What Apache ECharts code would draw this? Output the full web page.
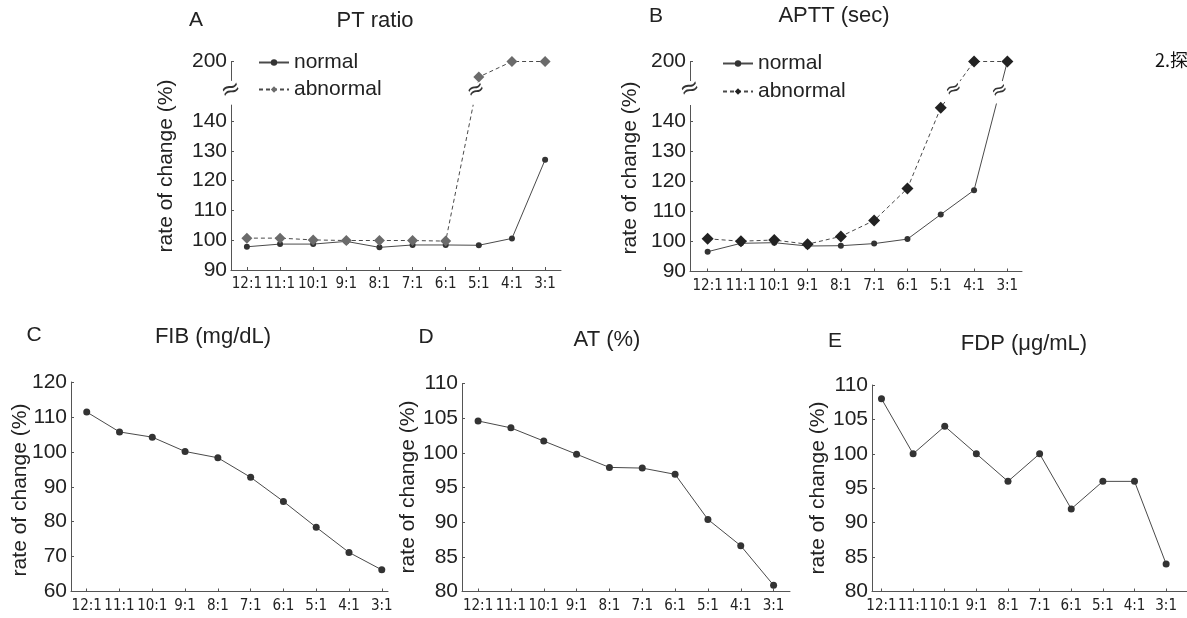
<!DOCTYPE html>
<html>
<head>
<meta charset="utf-8">
<title>rate of change</title>
<script src="https://cdn.jsdelivr.net/npm/echarts@6.0.0/dist/echarts.min.js"></script>
<style>
html, body { margin: 0; padding: 0; background: #fff; }
#main { width: 1187px; height: 618px; }
</style>
</head>
<body>
<div id="main"></div>
<script>
var categories = ['12:1', '11:1', '10:1', '9:1', '8:1', '7:1', '6:1', '5:1', '4:1', '3:1'];

// A  PT ratio
var ptNormal   = [97.8, 98.7, 98.7, 99.6, 97.6, 98.4, 98.4, 98.3, 100.6, 127];
var ptAbnormal = [100.7, 100.7, 100.1, 99.9, 99.9, 99.9, 99.7, 174, 200, 200];
// B  APTT
var apttNormal   = [96.6, 99.4, 99.6, 98.5, 98.6, 99.3, 100.8, 109, 117.1, 200];
var apttAbnormal = [100.9, 100.1, 100.5, 99.1, 101.7, 107, 117.7, 144.6, 200, 200];
// C  FIB, D  AT, E  FDP
var fib = [111.4, 105.7, 104.2, 100.1, 98.3, 92.7, 85.8, 78.4, 71.2, 66.2];
var at  = [104.6, 103.6, 101.7, 99.8, 97.9, 97.8, 96.9, 90.4, 86.6, 80.9];
var fdp = [108, 100, 104, 100, 96, 100, 92, 96, 96, 84];

var brokenTicks = [90, 100, 110, 120, 130, 140, 200];
var fibTicks = [60, 70, 80, 90, 100, 110, 120];
var pctTicks = [80, 85, 90, 95, 100, 105, 110];

var numFont = "'Liberation Sans', Arial, sans-serif";
var catFont = "'DejaVu Sans Condensed', 'Liberation Sans Narrow', sans-serif";
var ink = '#222';
var lineCol = '#4a4a4a';

// values above 150 are drawn on a compressed scale (axis break)
function squash(v) {
    return v <= 150 ? v : 150 + (v - 150) / 5;
}
function pts(arr, f) {
    return arr.map(function (v, i) { return [i, f ? f(v) : v]; });
}

var catIdx = categories.map(function (c, i) { return i; });

var grids = [
    {left: 231, top: 61.5, width: 330, height: 208.5},
    {left: 690, top: 61.5, width: 332, height: 210},
    {left: 71, top: 382, width: 317, height: 209.5},
    {left: 462, top: 383.5, width: 328, height: 208},
    {left: 872, top: 385, width: 330, height: 206.5}
];
var xRange = [[-0.48, 9.48], [-0.53, 9.44], [-0.48, 9.19], [-0.49, 9.5], [-0.3, 9.66]];
var yRange = [[90, 160, brokenTicks], [90, 160, brokenTicks], [60, 120, fibTicks], [80, 110, pctTicks], [80, 110, pctTicks]];

var xAxes = grids.map(function (g, k) {
    return {
        type: 'value', gridIndex: k, min: xRange[k][0], max: xRange[k][1],
        axisLine: {show: true, onZero: false, lineStyle: {color: '#555', width: 1}},
        axisTick: {show: true, inside: true, length: 3, customValues: catIdx, lineStyle: {color: '#555'}},
        axisLabel: {
            customValues: catIdx, margin: 7, color: ink, fontSize: 15, fontFamily: catFont,
            hideOverlap: false, showMinLabel: true, showMaxLabel: true,
            formatter: function (v) { return categories[v]; }
        },
        splitLine: {show: false}
    };
});

var yAxes = grids.map(function (g, k) {
    var broken = k < 2;
    var ticks = broken ? yRange[k][2].map(squash) : yRange[k][2];
    return {
        type: 'value', gridIndex: k, min: yRange[k][0], max: yRange[k][1],
        axisLine: {show: true, onZero: false, lineStyle: {color: '#555', width: 1}},
        axisTick: {show: true, inside: true, length: 3, customValues: ticks, lineStyle: {color: '#555'}},
        axisLabel: {
            customValues: ticks, margin: 4, color: ink, fontSize: 21, fontFamily: numFont,
            hideOverlap: false,
            formatter: function (v) { return broken && v === 160 ? '200' : v; }
        },
        splitLine: {show: false}
    };
});

function lineSeries(name, k, data, opts) {
    return {
        name: name, type: 'line', xAxisIndex: k, yAxisIndex: k, data: data,
        symbol: opts.symbol || 'circle', symbolSize: opts.size || 6,
        itemStyle: {color: opts.color || '#333'},
        lineStyle: {color: lineCol, width: 1, type: opts.dash ? [4, 3] : 'solid'},
        emphasis: {disabled: true}
    };
}

var series = [
    lineSeries('A normal', 0, pts(ptNormal, squash), {size: 6}),
    lineSeries('A abnormal', 0, pts(ptAbnormal, squash), {symbol: 'diamond', size: 11, color: '#6b6b6b', dash: true}),
    lineSeries('B normal', 1, pts(apttNormal, squash), {size: 6}),
    lineSeries('B abnormal', 1, pts(apttAbnormal, squash), {symbol: 'diamond', size: 12, color: '#222', dash: true}),
    lineSeries('FIB', 2, pts(fib), {size: 7}),
    lineSeries('AT', 3, pts(at), {size: 7}),
    lineSeries('FDP', 4, pts(fdp), {size: 7})
];

function legendFor(prefix, left, top, gap) {
    return {
        data: [prefix + ' normal', prefix + ' abnormal'],
        left: left, top: top, orient: 'vertical', padding: 0,
        itemGap: gap, itemWidth: 30, itemHeight: 8, selectedMode: false,
        formatter: function (n) { return n.slice(2); },
        textStyle: {fontSize: 21, color: ink, fontFamily: numFont, lineHeight: 20}
    };
}

function label(text, x, y, size, rot, family) {
    return {
        type: 'text', x: x, y: y, rotation: rot || 0, z: 20,
        style: {
            text: text, fill: ink, fontSize: size, fontFamily: family || numFont,
            align: 'center', verticalAlign: 'middle'
        }
    };
}

var texts = [
    label('A', 196, 20, 21), label('PT ratio', 375, 21, 22),
    label('B', 656, 16, 21), label('APTT (sec)', 834, 16, 22),
    label('C', 34, 335, 21), label('FIB (mg/dL)', 213, 337, 22),
    label('D', 426, 337, 21), label('AT (%)', 607, 340, 22),
    label('E', 835, 341, 21), label('FDP (\u03bcg/mL)', 1024, 344, 22),
    label('rate of change (%)', 166, 166, 21, Math.PI / 2),
    label('rate of change (%)', 630, 168, 21, Math.PI / 2),
    label('rate of change (%)', 20, 490, 21, Math.PI / 2),
    label('rate of change (%)', 408, 487, 21, Math.PI / 2),
    label('rate of change (%)', 818, 488, 21, Math.PI / 2),
    {
        type: 'text', x: 1155, y: 60, z: 20,
        style: {text: '2.\u63a2', fill: '#111', fontSize: 18, fontFamily: "'Noto Sans CJK SC', sans-serif", verticalAlign: 'middle'}
    }
];

var chart = echarts.init(document.getElementById('main'));
chart.setOption({
    animation: false,
    backgroundColor: '#fff',
    grid: grids,
    xAxis: xAxes,
    yAxis: yAxes,
    legend: [legendFor('A', 258, 52, 6), legendFor('B', 722, 53, 7)],
    series: series,
    graphic: texts
});

// break marks on the axes and on the lines that cross the gap
function px(k, x, y) {
    return chart.convertToPixel({xAxisIndex: k, yAxisIndex: k}, [x, y]);
}
function breakMark(k, p1, p2, pm, rot, size) {
    return [
        {type: 'line', z: 10, shape: {x1: p1[0], y1: p1[1], x2: p2[0], y2: p2[1]},
         style: {stroke: '#fff', lineWidth: 7}},
        {type: 'text', z: 11, x: pm[0], y: pm[1], rotation: rot,
         style: {text: '\u2248', fill: '#333', fontSize: size, fontFamily: "'DejaVu Sans', sans-serif",
                 align: 'center', verticalAlign: 'middle'}}
    ];
}
function axisBreak(k, lo, hi, mid) {
    var x0 = xRange[k][0];
    return breakMark(k, px(k, x0, lo), px(k, x0, hi), px(k, x0, mid), 0.35, 24);
}
function segBreak(k, arr, i, lo, hi, mid, size) {
    var d1 = squash(arr[i]), d2 = squash(arr[i + 1]);
    function at(v) { return px(k, i + (v - d1) / (d2 - d1), v); }
    return breakMark(k, at(lo), at(hi), at(mid), 0.45, size);
}

var marks = [].concat(
    axisBreak(0, 145.5, 153.5, 150.3),
    segBreak(0, ptAbnormal, 6, 145.5, 153, 150.3, 22),
    axisBreak(1, 145.5, 153.5, 150.8),
    segBreak(1, apttAbnormal, 7, 147, 153.5, 150.6, 20),
    segBreak(1, apttNormal, 8, 146, 153.5, 150.2, 20)
);
chart.setOption({graphic: texts.concat(marks)});
</script>
</body>
</html>
